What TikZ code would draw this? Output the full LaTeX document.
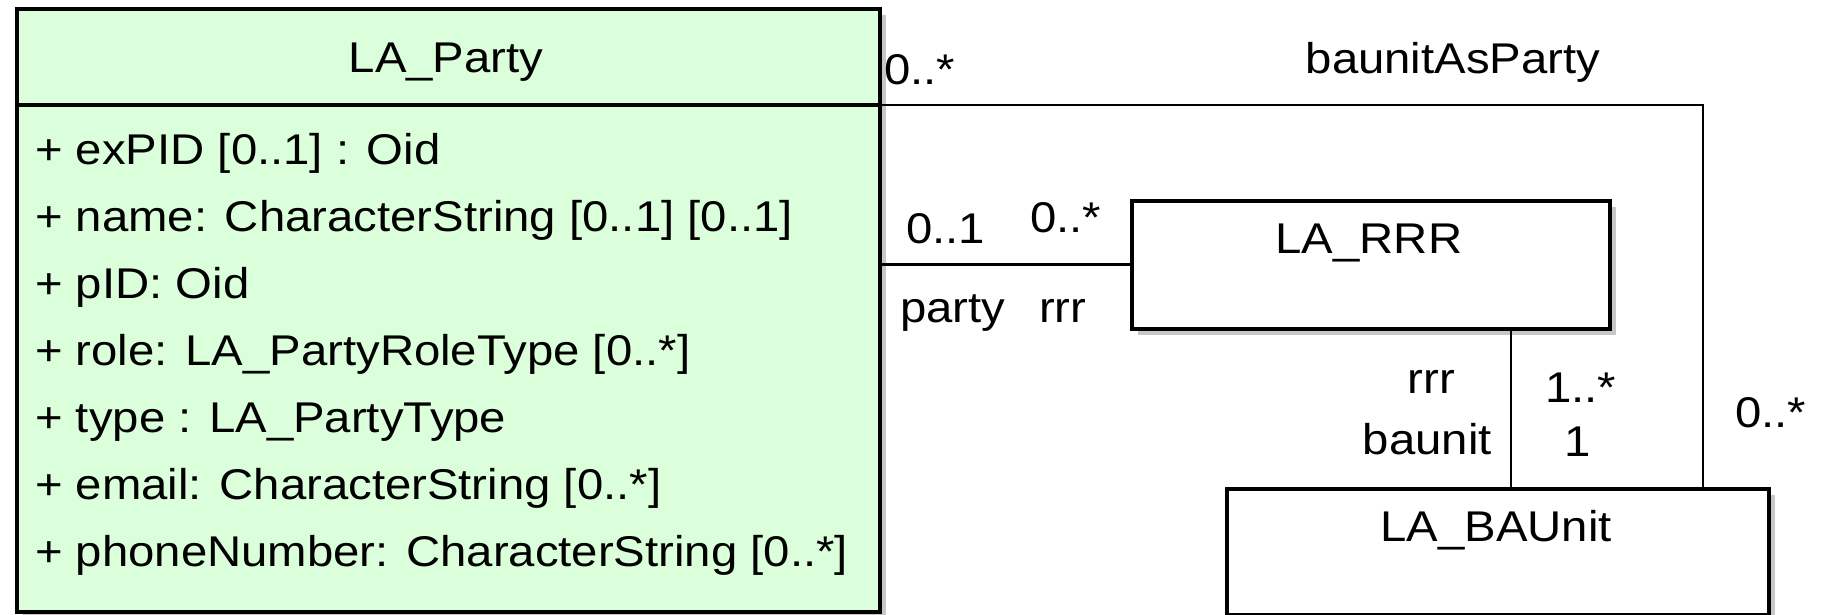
\documentclass[tikz,border=0pt]{standalone}
\usepackage{fontspec}
\setmainfont{Liberation Sans}[FakeStretch=1.1]
\usetikzlibrary{shadows}
\definecolor{partygreen}{RGB}{218,255,218}
\tikzset{
  umlbox/.style={draw=black, line width=3.5pt, fill=white, inner sep=0pt,
    anchor=north west,
    drop shadow={shadow xshift=6pt, shadow yshift=-6pt, fill=black!22, opacity=1}},
  assoc/.style={draw=black, line width=2.8pt},
  txt/.style={inner sep=0pt, font=\fontsize{43pt}{51pt}\selectfont},
}
\begin{document}
\begin{tikzpicture}[x=1pt,y=-1pt]
\useasboundingbox[fill=white] (0,0) rectangle (1823,614);
% classes
\node[umlbox, fill=partygreen, minimum width=863pt, minimum height=603pt] (party) at (15,7) {};
\node[umlbox, minimum width=478pt, minimum height=128pt] (rrr) at (1130,199) {};
\node[umlbox, minimum width=542pt, minimum height=126pt] (baunit) at (1225,487) {};
\coordinate (sep) at (0,105);
\draw[line width=3.5pt] (party.west |- sep) -- (party.east |- sep);
% titles
\node[txt, anchor=base] (partyT) at (446,72) {LA\_Party};
\node[txt, anchor=base] (rrrT) at (1369,253) {LA\_RRR};
\node[txt, anchor=base] (baunitT) at (1496,541) {LA\_BAUnit};
% attributes
\node[txt, anchor=base west] (a1) at (35,164) {+ exPID [0..1] : Oid};
\node[txt, anchor=base west] (a2) at (35,231) {+ name: CharacterString [0..1] [0..1]};
\node[txt, anchor=base west] (a3) at (35,298) {+ pID: Oid};
\node[txt, anchor=base west] (a4) at (35,365) {+ role: LA\_PartyRoleType [0..*]};
\node[txt, anchor=base west] (a5) at (35,432) {+ type : LA\_PartyType};
\node[txt, anchor=base west] (a6) at (35,499) {+ email: CharacterString [0..*]};
\node[txt, anchor=base west] (a7) at (35,566) {+ phoneNumber: CharacterString [0..*]};
% connectors
\coordinate (bap) at (1703,105);
\draw[assoc] (party.east |- bap) -- (bap) -- (bap |- baunit.north);
\draw[assoc] (party.east |- rrr.west) -- (rrr.west);
\coordinate (rb) at (1511,0);
\draw[assoc, line width=2.4pt] (rb |- rrr.south) -- (rb |- baunit.north);
% association labels
\node[txt, anchor=base west] (m1) at (884,84) {0..*};
\node[txt, anchor=base] (bapT) at (1453,73) {baunitAsParty};
\node[txt, anchor=base west] (m2) at (906,243) {0..1};
\node[txt, anchor=base west] (m3) at (1030,232) {0..*};
\node[txt, anchor=base west] (r1) at (900,322) {party};
\node[txt, anchor=base west] (r2) at (1039,322) {rrr};
\node[txt, anchor=base east] (r3) at (1455,393) {rrr};
\node[txt, anchor=base east] (r4) at (1492,454) {baunit};
\node[txt, anchor=base west] (m4) at (1545,402) {1..*};
\node[txt, anchor=base west] (m5) at (1564,456) {1};
\node[txt, anchor=base west] (m6) at (1735,427) {0..*};
\end{tikzpicture}
\end{document}
